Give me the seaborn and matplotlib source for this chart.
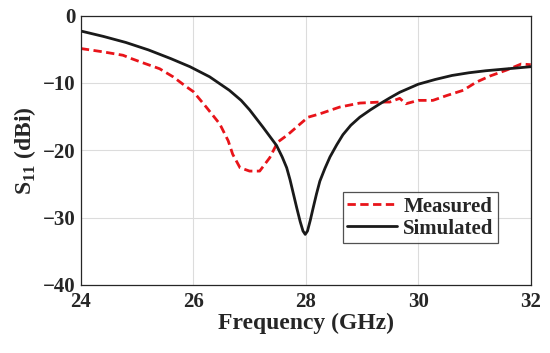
#libraries
import numpy as np
import pandas as pd
import matplotlib
matplotlib.use("Agg")
import matplotlib.pyplot as plt
import seaborn as sns

# measured S11
freq_meas = [24.0, 24.4, 24.75, 24.9, 25.13, 25.4, 25.64, 25.88, 26.0, 26.23, 26.47,
             26.62, 26.7, 26.83, 27.0, 27.18, 27.36, 27.5, 27.68, 27.9, 28.04, 28.25,
             28.6, 28.96, 29.32, 29.49, 29.67, 29.78, 30.0, 30.26, 30.5, 30.8, 31.03,
             31.27, 31.57, 31.83, 32.0]
s11_meas = [-4.9, -5.4, -5.9, -6.4, -7.1, -7.9, -9.1, -10.6, -11.3, -13.6, -16.1,
            -18.6, -20.6, -22.6, -23.1, -23.1, -21.1, -18.8, -17.7, -16.1, -15.1, -14.6,
            -13.6, -13.0, -12.85, -12.85, -12.3, -13.1, -12.6, -12.6, -11.9, -11.1, -9.9,
            -9.0, -8.1, -7.2, -7.3]

# simulated S11
freq_sim = [24.0, 24.4, 24.8, 25.2, 25.6, 25.94, 26.29, 26.64, 26.85, 27.0, 27.24, 27.48,
            27.58, 27.66, 27.72, 27.78, 27.84, 27.9, 27.95, 27.99, 28.03, 28.08, 28.13,
            28.19, 28.25, 28.34, 28.43, 28.55, 28.66, 28.8, 28.96, 29.15, 29.32, 29.5,
            29.67, 30.0, 30.3, 30.6, 30.9, 31.2, 31.6, 32.0]
s11_sim = [-2.3, -3.1, -4.0, -5.1, -6.4, -7.6, -9.1, -11.1, -12.6, -14.0, -16.6, -19.3,
           -21.0, -22.6, -24.4, -26.5, -28.6, -30.6, -32.0, -32.5, -32.0, -30.4, -28.6,
           -26.5, -24.6, -22.7, -21.0, -19.2, -17.7, -16.3, -15.1, -14.0, -13.1, -12.2,
           -11.4, -10.2, -9.5, -8.9, -8.5, -8.2, -7.9, -7.6]

x_ticks = [24, 26, 28, 30, 32]
y_ticks = [0, -10, -20, -30, -40]

df_meas = pd.DataFrame({"freq": freq_meas, "s11": s11_meas})
df_sim = pd.DataFrame({"freq": freq_sim, "s11": s11_sim})

sns.set_style("whitegrid")
plt.rcParams["font.family"] = ["Liberation Serif", "DejaVu Serif"]
plt.rcParams["font.weight"] = "bold"
plt.rcParams["axes.labelweight"] = "bold"
plt.rcParams["mathtext.fontset"] = "custom"
plt.rcParams["mathtext.rm"] = "Liberation Serif"
plt.rcParams["mathtext.bf"] = "Liberation Serif:bold"

fig = plt.figure(figsize=(5.5, 3.53), dpi=100)
ax = fig.add_axes([0.147, 0.193, 0.818, 0.763])

sns.lineplot(data=df_meas, x="freq", y="s11", ax=ax, color="#e8141a",
             linestyle=(0, (3, 1.6)), linewidth=2.0, label="Measured")
sns.lineplot(data=df_sim, x="freq", y="s11", ax=ax, color="#1a1a1a",
             linewidth=2.0, label="Simulated")

ax.set_xlim(24, 32)
ax.set_ylim(-40, 0)
ax.set_xticks(x_ticks)
ax.set_yticks(y_ticks)
ax.set_xticklabels([str(t) for t in x_ticks], fontsize=15, fontweight="bold")
ax.set_yticklabels([str(t).replace("-", "\u2212") for t in y_ticks], fontsize=15, fontweight="bold")
ax.tick_params(direction="in", length=4, width=0.8, colors="#262626")
ax.tick_params(axis="x", pad=5)
ax.tick_params(axis="y", pad=4)

ax.set_xlabel("Frequency (GHz)", fontsize=17, fontweight="bold", labelpad=1)
ax.set_ylabel(r"$\mathbf{S}_{\mathbf{11}}$ (dBi)", fontsize=17, fontweight="bold", labelpad=3)

ax.grid(True, color="#dcdcdc", linewidth=0.8)
for sp in ax.spines.values():
    sp.set_color("#262626")
    sp.set_linewidth(0.9)

leg = ax.legend(loc="lower right", bbox_to_anchor=(0.927, 0.156), fontsize=15,
                frameon=True, fancybox=False, handlelength=2.4, borderpad=0.2,
                labelspacing=0.1, handletextpad=0.3, borderaxespad=0)
leg.get_frame().set_edgecolor("#262626")
leg.get_frame().set_linewidth(0.9)
for t in leg.get_texts():
    t.set_fontweight("bold")

fig.savefig("out.png", dpi=100)
